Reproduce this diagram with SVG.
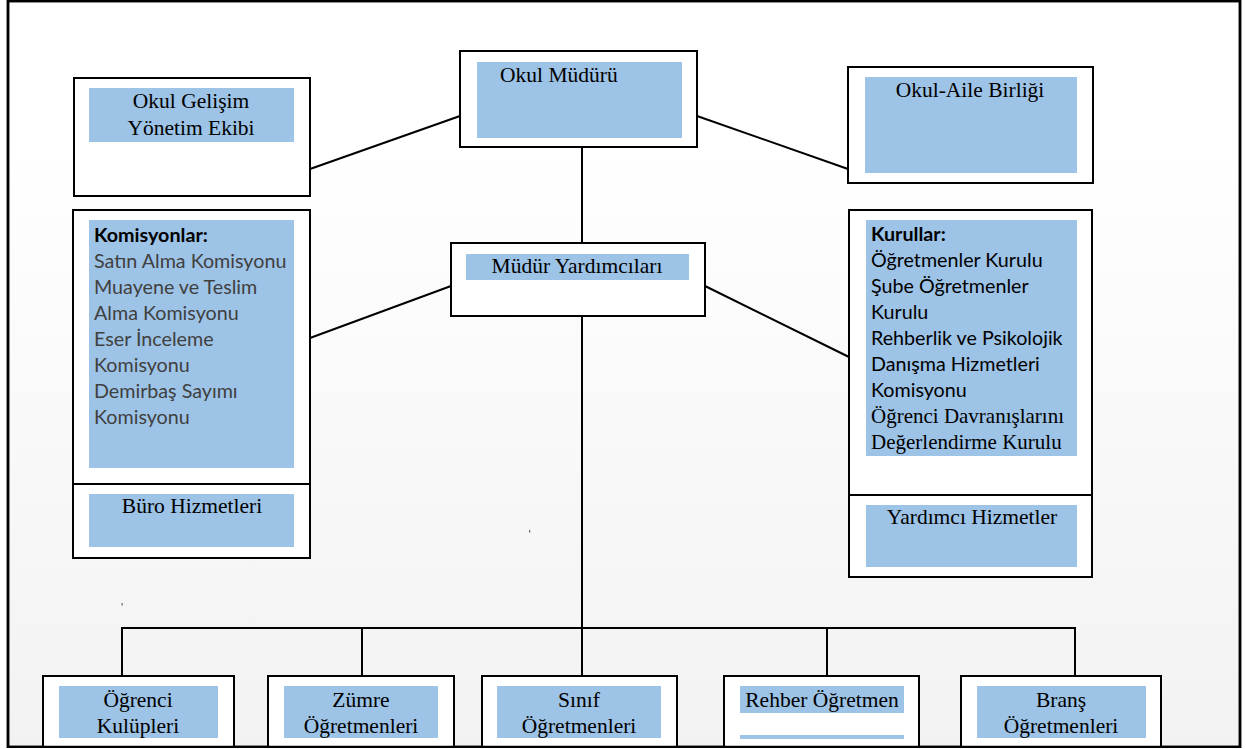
<svg xmlns="http://www.w3.org/2000/svg" width="1246" height="749" viewBox="0 0 1246 749">
<defs>
<linearGradient id="bg" x1="0" y1="0" x2="0" y2="1">
<stop offset="0" stop-color="#ffffff"/>
<stop offset="0.2" stop-color="#ffffff"/>
<stop offset="1" stop-color="#f2f2f2"/>
</linearGradient>
<style>
.box{fill:#ffffff;stroke:#000;stroke-width:2}
.blue{fill:#9dc3e6}
.conn line,.conn polyline{stroke:#000;stroke-width:2;fill:none}
.serif{font-family:"Liberation Serif","Times New Roman",serif;font-size:21.5px;fill:#000}
.c{text-anchor:middle}
.sans{font-family:Lato,"Liberation Sans",sans-serif;font-size:19.7px}
.gray{fill:#404040}
.blk{fill:#000}
.bold{font-weight:bold;fill:#000}
</style>
</defs>
<rect x="0" y="0" width="1246" height="749" fill="#ffffff"/>
<rect x="8" y="1" width="1232" height="746" fill="url(#bg)" stroke="#000" stroke-width="2.5"/>
<rect x="529" y="530" width="1.2" height="2.5" fill="#666"/>
<rect x="121.5" y="603" width="1.2" height="2.5" fill="#666"/>

<g class="conn" id="connectors">
<line x1="310" y1="169" x2="460" y2="116"/>
<line x1="697" y1="116" x2="848" y2="169"/>
<line x1="582" y1="147" x2="582" y2="243"/>
<line x1="451" y1="286" x2="310" y2="338"/>
<line x1="705" y1="286" x2="849" y2="357"/>
<line x1="582" y1="316" x2="582" y2="676"/>
<polyline points="122,676 122,628 1075,628 1075,676"/>
<line x1="362" y1="628" x2="362" y2="676"/>
<line x1="827" y1="628" x2="827" y2="676"/>
</g>

<g id="okul-gelisim">
<rect class="box" x="74" y="78" width="236" height="118"/>
<rect class="blue" x="89" y="88" width="205" height="54"/>
<text class="serif c" x="191" y="108">Okul Gelişim</text>
<text class="serif c" x="191" y="135">Yönetim Ekibi</text>
</g>

<g id="okul-muduru">
<rect class="box" x="460" y="51" width="237" height="96"/>
<rect class="blue" x="477" y="62" width="205" height="76"/>
<text class="serif" x="500" y="82">Okul Müdürü</text>
</g>

<g id="okul-aile">
<rect class="box" x="848" y="67" width="245" height="116"/>
<rect class="blue" x="865" y="77" width="212" height="96"/>
<text class="serif c" x="970" y="97">Okul-Aile Birliği</text>
</g>

<g id="mudur-yardimcilari">
<rect class="box" x="451" y="243" width="254" height="73"/>
<rect class="blue" x="466" y="254" width="223" height="26"/>
<text class="serif c" x="577" y="273">Müdür Yardımcıları</text>
</g>

<g id="komisyonlar">
<rect class="box" x="73" y="210" width="237" height="348"/>
<line x1="73" y1="484" x2="310" y2="484" stroke="#000" stroke-width="2"/>
<rect class="blue" x="89" y="220" width="205" height="248"/>
<text class="sans bold" x="94" y="242">Komisyonlar:</text>
<text class="sans gray" x="94" y="268">Satın Alma Komisyonu</text>
<text class="sans gray" x="94" y="294">Muayene ve Teslim</text>
<text class="sans gray" x="94" y="320">Alma Komisyonu</text>
<text class="sans gray" x="94" y="346">Eser İnceleme</text>
<text class="sans gray" x="94" y="372">Komisyonu</text>
<text class="sans gray" x="94" y="398">Demirbaş Sayımı</text>
<text class="sans gray" x="94" y="424">Komisyonu</text>
</g>

<g id="buro-hizmetleri">
<rect class="blue" x="89" y="494" width="205" height="53"/>
<text class="serif c" x="192" y="513">Büro Hizmetleri</text>
</g>

<g id="kurullar">
<rect class="box" x="849" y="210" width="243" height="367"/>
<line x1="849" y1="495" x2="1092" y2="495" stroke="#000" stroke-width="2"/>
<rect class="blue" x="866" y="220" width="211" height="236"/>
<text class="sans bold" x="871" y="241">Kurullar:</text>
<text class="sans blk" x="871" y="267">Öğretmenler Kurulu</text>
<text class="sans blk" x="871" y="293">Şube Öğretmenler</text>
<text class="sans blk" x="871" y="319">Kurulu</text>
<text class="sans blk" x="871" y="345">Rehberlik ve Psikolojik</text>
<text class="sans blk" x="871" y="371">Danışma Hizmetleri</text>
<text class="sans blk" x="871" y="397">Komisyonu</text>
<text class="serif" x="871" y="423" style="font-size:21px">Öğrenci Davranışlarını</text>
<text class="serif" x="871" y="449" style="font-size:21px">Değerlendirme Kurulu</text>
</g>

<g id="yardimci-hizmetler">
<rect class="blue" x="866" y="505" width="211" height="62"/>
<text class="serif c" x="972" y="524">Yardımcı Hizmetler</text>
</g>

<g id="ogrenci-kulupleri">
<rect class="box" x="43" y="676" width="191" height="80"/>
<rect class="blue" x="59" y="686" width="159" height="52"/>
<text class="serif c" x="138" y="707">Öğrenci</text>
<text class="serif c" x="138" y="733">Kulüpleri</text>
</g>

<g id="zumre">
<rect class="box" x="268" y="676" width="186" height="80"/>
<rect class="blue" x="284" y="686" width="154" height="52"/>
<text class="serif c" x="361" y="707">Zümre</text>
<text class="serif c" x="361" y="733">Öğretmenleri</text>
</g>

<g id="sinif">
<rect class="box" x="482" y="676" width="195" height="80"/>
<rect class="blue" x="497" y="686" width="164" height="52"/>
<text class="serif c" x="579" y="707">Sınıf</text>
<text class="serif c" x="579" y="733">Öğretmenleri</text>
</g>

<g id="rehber">
<rect class="box" x="724" y="676" width="195" height="80"/>
<rect class="blue" x="740" y="686" width="164" height="27"/>
<rect class="blue" x="740" y="735" width="164" height="4"/>
<text class="serif c" x="822" y="707">Rehber Öğretmen</text>
</g>

<g id="brans">
<rect class="box" x="961" y="676" width="200" height="80"/>
<rect class="blue" x="977" y="686" width="169" height="52"/>
<text class="serif c" x="1061" y="707">Branş</text>
<text class="serif c" x="1061" y="733">Öğretmenleri</text>
</g>

<rect x="8" y="1" width="1232" height="746" fill="none" stroke="#000" stroke-width="2.5"/>
<rect x="0" y="748" width="1246" height="1" fill="#ffffff"/>
</svg>
